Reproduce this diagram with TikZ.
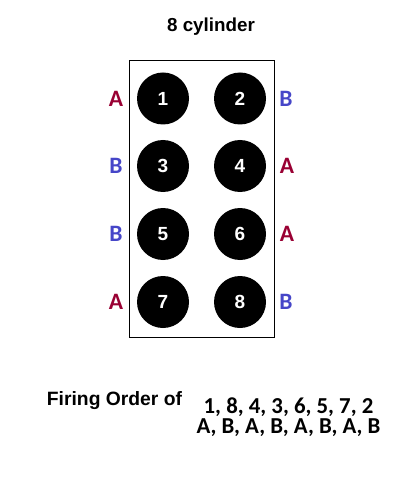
\documentclass[tikz,border=0pt]{standalone}
\usepackage{fontspec}
\setmainfont{Liberation Sans}
\newfontfamily\calib{Carlito}
\usetikzlibrary{positioning}
\definecolor{bankRed}{RGB}{153,0,51}
\definecolor{bankBlue}{RGB}{70,70,200}

\begin{document}
\begin{tikzpicture}[
            x=1pt, y=-1pt,
            cyl/.style={circle, fill=black, minimum size=52pt, inner sep=0pt,
                text=white, font=\bfseries\fontsize{19}{19}\selectfont},
            labA/.style={text=bankRed, font=\calib\bfseries\fontsize{23.5}{23.5}\selectfont},
            labB/.style={text=bankBlue, font=\calib\bfseries\fontsize{23.5}{23.5}\selectfont},
            order/.style={anchor=base, inner sep=0pt, align=center,
                font=\calib\bfseries\fontsize{22.8}{20}\selectfont}
        ]
        \useasboundingbox (0,0) rectangle (400,478);
        \def\xl{163}
        \def\xr{240}

        \node[anchor=base, font=\bfseries\fontsize{18.8}{18.8}\selectfont] (title) at (211,32) {8 cylinder};
        \node[draw, thick, minimum width=145pt, minimum height=277pt, inner sep=0pt] (block) at (201.5,199) {};

        % cylinders, odd ones left
        \foreach \n/\x/\y in {1/\xl/98.5, 2/\xr/98.5, 3/\xl/166, 4/\xr/166,
                5/\xl/234, 6/\xr/234, 7/\xl/302, 8/\xr/302}
            \node[cyl] (cyl\n) at (\x,\y) {\n};

        % bank letters
        \node[labA] (side1) at (116,98.5) {A};
        \node[labB] (side2) at (286,98.5) {B};
        \node[labB] (side3) at (116,166) {B};
        \node[labA] (side4) at (287,166) {A};
        \node[labB] (side5) at (116,234) {B};
        \node[labA] (side6) at (287,234) {A};
        \node[labA] (side7) at (116,302) {A};
        \node[labB] (side8) at (286,302) {B};

        \node[anchor=base, font=\bfseries\fontsize{19.3}{19.3}\selectfont] (firing) at (114.5,405) {Firing Order of};
        \node[order] (seq) at (288.5,433) {1, 8, 4, 3, 6, 5, 7, 2\\A, B, A, B, A, B, A, B};
    \end{tikzpicture}
\end{document}
